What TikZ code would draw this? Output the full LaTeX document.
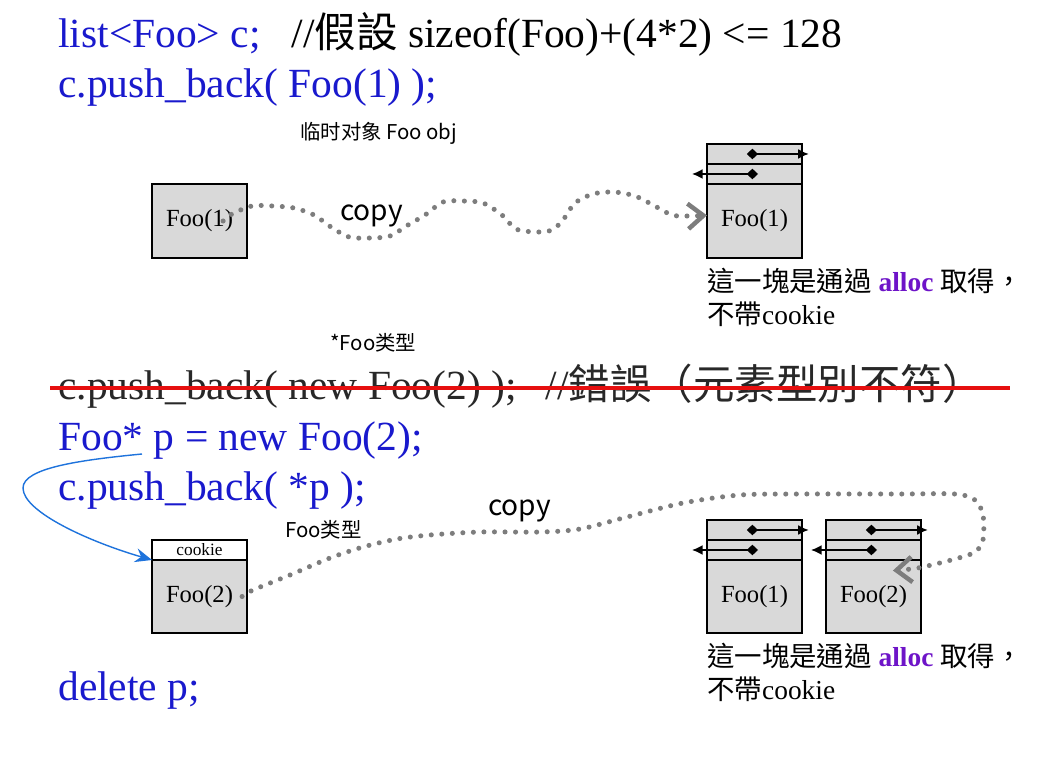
\documentclass[tikz,border=0pt]{standalone}
\usepackage{fontspec}
\setmainfont{Liberation Serif}
\newfontfamily\cjk{Noto Sans CJK TC}
\newfontfamily\cjksc{Noto Sans CJK SC}
\usepackage{xcolor}
\usetikzlibrary{arrows.meta,positioning}

\definecolor{codeblue}{RGB}{25,25,205}
\definecolor{codegray}{RGB}{40,40,40}
\definecolor{boxgray}{RGB}{217,217,217}
\definecolor{dotgray}{RGB}{125,125,125}
\definecolor{allocpurple}{RGB}{110,20,200}
\definecolor{ptrblue}{RGB}{30,115,220}
\definecolor{strikered}{RGB}{230,15,15}

\begin{document}
\begin{tikzpicture}[x=0.025cm,y=-0.025cm,
    code/.style={anchor=base west, inner sep=0pt, font=\fontsize{29.5}{32}\selectfont},
    note/.style={align=left, inner sep=0pt, font=\fontsize{19.5}{23.5}\selectfont},
    hint/.style={anchor=west, inner sep=0pt, font=\cjksc\fontsize{14.5}{17}\selectfont},
    copytag/.style={anchor=west, inner sep=0pt, font=\cjksc\fontsize{20}{24}\selectfont},
    body/.style={draw, line width=1.3pt, fill=boxgray, outer sep=0pt, inner sep=0pt,
        minimum width=2.375cm, minimum height=1.85cm, font=\fontsize{17.5}{20}\selectfont},
    hdr/.style={draw, line width=1.3pt, fill=boxgray, outer sep=0pt, inner sep=0pt,
        minimum width=2.375cm, minimum height=0.5cm},
    ptr/.style={line width=1.1pt, {Diamond[length=8pt,width=7.5pt]}-{Latex[length=7.5pt,width=7pt]}},
    copyline/.style={draw=dotgray, line width=3.6pt, line cap=round, dash pattern=on 0pt off 7.5pt},
    copytip/.style={-{Straight Barb[length=11pt,width=18pt,line width=3.2pt]}},
    pline/.style={draw=ptrblue, line width=1pt, -{Stealth[length=12pt,width=10pt,inset=4pt]}},
    strike/.style={draw=strikered, line width=2.8pt}]
    \useasboundingbox (0,0) rectangle (1055,770);

    % code lines
    \node[code] (l1) at (58,47) {{\color{codeblue}list<Foo> c;}\hspace{0.5em} //{\cjk 假設} sizeof(Foo)+(4*2) <= 128};
    \node[code, text=codeblue] (l2) at (58,97) {c.push\_back( Foo(1) );};
    \node[code, text=codegray] (bad) at (58,399) {c.push\_back( new Foo(2) );\hspace{0.45em} //{\cjk 錯誤（元素型別不符）}};
    \draw[strike] (50,388) -- (1010,388);
    \node[code, text=codeblue] (l4) at (58,450) {Foo* p = new Foo(2);};
    \node[code, text=codeblue] (l5) at (58,500) {c.push\_back( *p );};
    \node[code, text=codeblue] (l6) at (58,700) {delete p;};

    % hints
    \node[hint] (tmpnote) at (300,133) {临时对象 Foo obj};
    \node[hint] (ptrnote) at (330,343) {*Foo类型};
    \node[hint] (objnote) at (285,530) {Foo类型};
    \node[copytag] (copya) at (340,216) {copy};
    \node[copytag] (copyb) at (488,511) {copy};

    % first push_back
    \node[body] (foo1) at (199.5,221) {Foo(1)};
    \node[body] (lb1) at (754.5,221) {Foo(1)};
    \node[hdr, above=0pt of lb1] (lb1b) {};
    \node[hdr, above=0pt of lb1b] (lb1a) {};
    \draw[ptr] ([xshift=-5.5pt]lb1a.center) -- ++(62,0);
    \draw[ptr] ([xshift=2.5pt]lb1b.center) -- ++(-66,0);
    \node[note, below right=7pt and 0pt of lb1.south west] (alloc1)
        {{\cjk 這一塊是通過} {\bfseries\color{allocpurple}alloc} {\cjk 取得，}\\{\cjk 不帶}cookie};
    \draw[copyline, copytip] plot[smooth] coordinates {([xshift=-17pt]foo1.east) (232,214) (252,206)
        (273,206) (294,208) (314,215) (331,227) (349,237) (370,238) (390,236) (408,225) (425,215)
        (443,202) (463,201) (483,203) (502,215) (516,229) (537,232) (552,230) (563,220) (575,203)
        (593,194) (614,192) (635,196) (653,205) (672,215) (688,216) ([yshift=4pt]lb1.west)};

    % second push_back
    \node[body, minimum height=1.825cm] (foo2) at (199.5,596.5) {Foo(2)};
    \node[hdr, above=0pt of foo2, fill=white, font=\fontsize{12.3}{14}\selectfont] (ck) {cookie};
    \node[body, minimum height=1.825cm] (lb2) at (754.5,596.5) {Foo(1)};
    \node[hdr, above=0pt of lb2] (lb2b) {};
    \node[hdr, above=0pt of lb2b] (lb2a) {};
    \node[body, minimum height=1.825cm] (lb3) at (873.5,596.5) {Foo(2)};
    \node[hdr, above=0pt of lb3] (lb3b) {};
    \node[hdr, above=0pt of lb3b] (lb3a) {};
    \draw[ptr] ([xshift=-5.5pt]lb2a.center) -- ++(62,0);
    \draw[ptr] ([xshift=2.5pt]lb2b.center) -- ++(-66,0);
    \draw[ptr] ([xshift=-5.5pt]lb3a.center) -- ++(62,0);
    \draw[ptr] ([xshift=2.5pt]lb3b.center) -- ++(-66,0);
    \node[note, below right=7pt and 0pt of lb2.south west] (alloc2)
        {{\cjk 這一塊是通過} {\bfseries\color{allocpurple}alloc} {\cjk 取得，}\\{\cjk 不帶}cookie};

    \coordinate (pstar) at (142,454);
    \draw[pline] (pstar) .. controls (80,460) and (23,468) .. (23,488)
        .. controls (23,512) and (90,542) .. (ck.south west);

    \draw[copyline, copytip] plot[smooth] coordinates {([xshift=-3.5pt]foo2.east) (253,590) (290,575)
        (330,558) (363,547) (397,539) (430,535) (480,532) (540,532) (580,529) (627,517) (683,503)
        (740,495) (800,494) (900,494) (955,494) (975,500) (983,515) (983,540) (975,552) (955,559)
        (918,568) ([xshift=13.8pt,yshift=-7.5pt]lb3.north)};
\end{tikzpicture}
\end{document}
